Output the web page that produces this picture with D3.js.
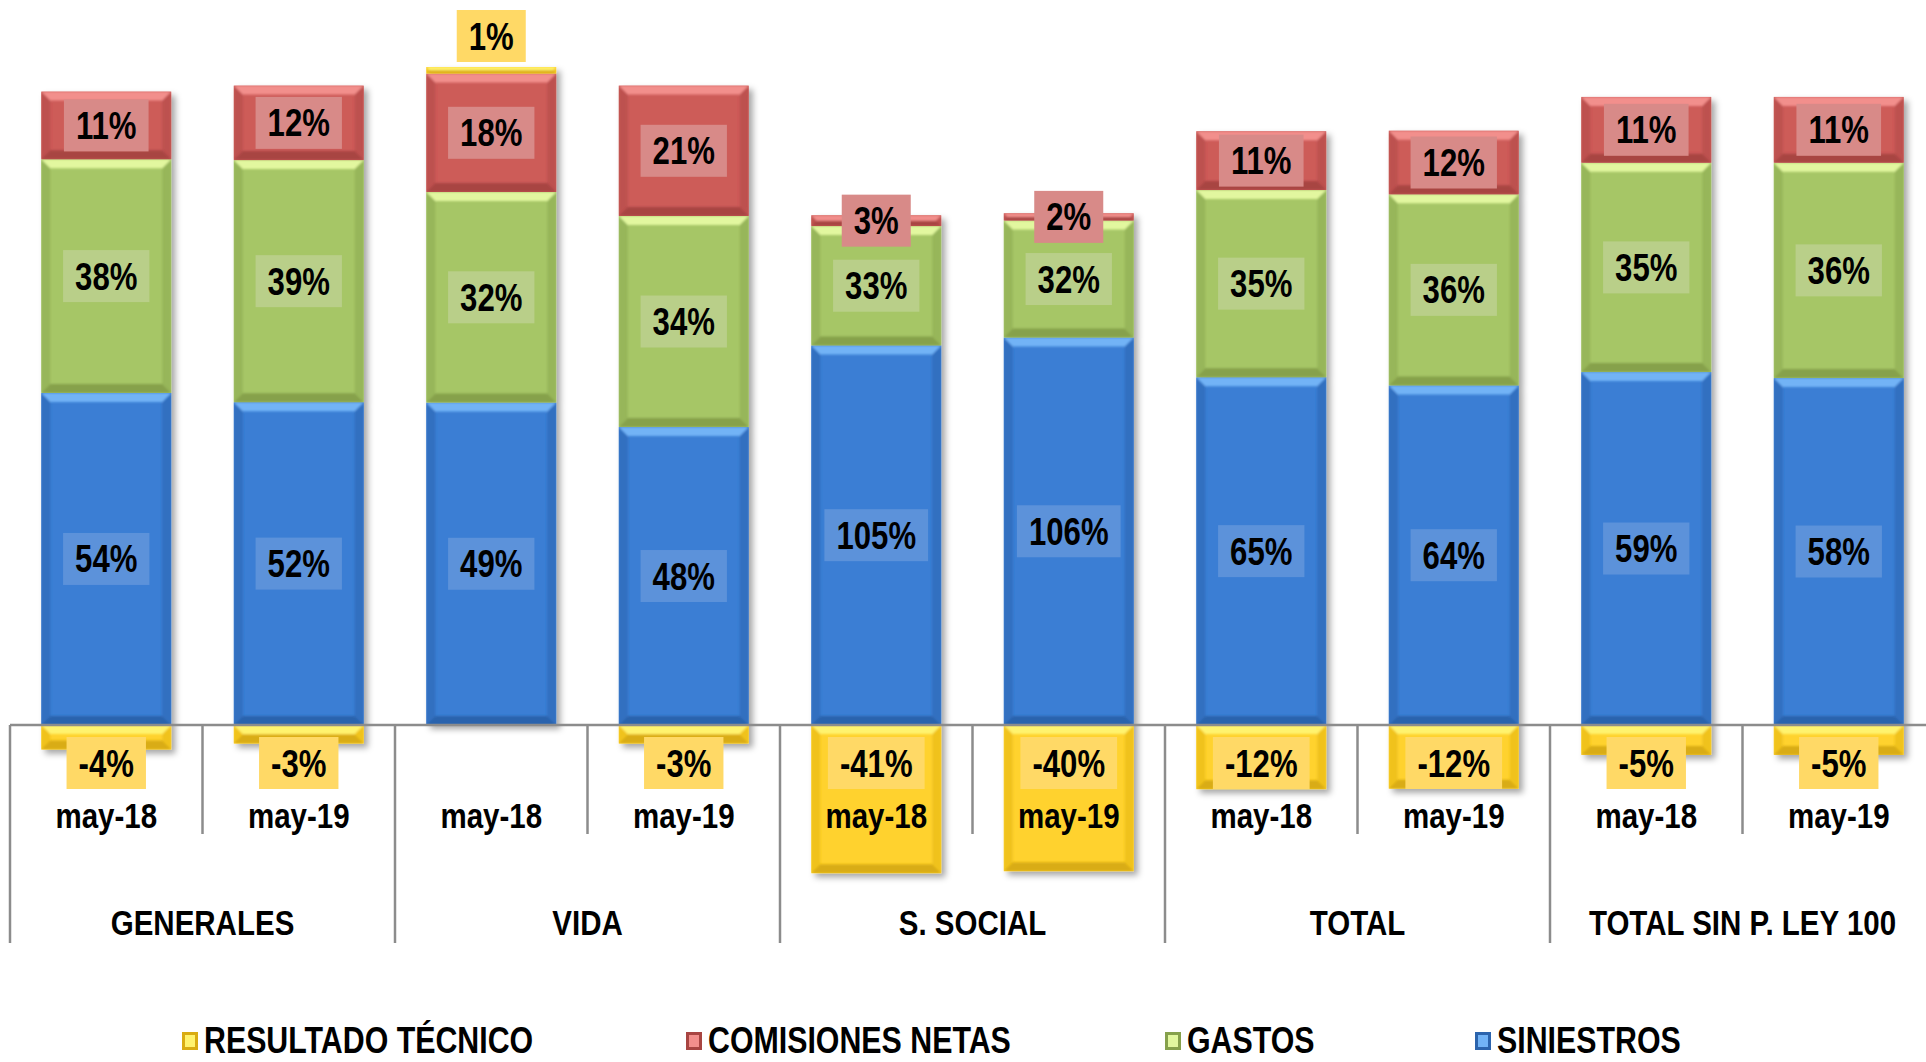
<!DOCTYPE html>
<html>
<head>
<meta charset="utf-8">
<script src="https://cdn.jsdelivr.net/npm/d3@7"></script>
<style>
  html, body { margin: 0; padding: 0; background: #ffffff; overflow: hidden; }
  svg { display: block; }
</style>
</head>
<body>
<script>
// ---------------- DATA ----------------
const groups = ["GENERALES", "VIDA", "S. SOCIAL", "TOTAL", "TOTAL SIN P. LEY 100"];
const periods = ["may-18", "may-19"];
const siniestros = [54, 52, 49, 48, 105, 106, 65, 64, 59, 58];
const gastos     = [38, 39, 32, 34, 33, 32, 35, 36, 35, 36];
const comisiones = [11, 12, 18, 21, 3, 2, 11, 12, 11, 11];
const resultado  = [-4, -3, 1, -3, -41, -40, -12, -12, -5, -5];
const legendLabels = ["RESULTADO TÉCNICO", "COMISIONES NETAS", "GASTOS", "SINIESTROS"];

// ---------------- STYLE ----------------
const W = 1926, H = 1062;
const FONT = "'Liberation Sans','Arial',sans-serif";
const NARROW = 0.82; // horizontal squeeze to emulate Arial Narrow
const styles = {
  SINIESTROS: { base: "#3a7ed4", light: "#72b3f6", dark: "#2c64ad", side: "#336fc0", label: "#5c92da" },
  GASTOS:     { base: "#a6c666", light: "#e2f79f", dark: "#86a14c", side: "#97b65a", label: "#b9cf89" },
  COMISIONES: { base: "#cd5b58", light: "#f28f8c", dark: "#a84542", side: "#bd5150", label: "#d88a88" },
  RESULTADO:  { base: "#ffd22e", light: "#fff36e", dark: "#d9ac12", side: "#f0c21e", label: "#ffd966" }
};

const series = [
  { key: "SINIESTROS", values: siniestros },
  { key: "GASTOS", values: gastos },
  { key: "COMISIONES", values: comisiones },
  { key: "RESULTADO", values: resultado }
];

const nBars = siniestros.length;
const svg = d3.select("body").append("svg").attr("width", W).attr("height", H);

const defs = svg.append("defs");
const f = defs.append("filter").attr("id", "shadow").attr("x", "-20%").attr("y", "-20%").attr("width", "140%").attr("height", "140%");
f.append("feDropShadow").attr("dx", 4).attr("dy", 4).attr("stdDeviation", 3).attr("flood-color", "#000").attr("flood-opacity", 0.35);
const soft = defs.append("filter").attr("id", "soft");
soft.append("feGaussianBlur").attr("stdDeviation", 1.2);

function narrowText(sel, tx, ty, txt, size, anchor) {
  return sel.append("text")
    .attr("transform", `translate(${tx},${ty}) scale(${NARROW},1)`)
    .attr("text-anchor", anchor || "middle")
    .attr("font-family", FONT).attr("font-weight", "bold")
    .attr("font-size", size).attr("fill", "#000").text(txt);
}

// ---------------- SCALES ----------------
const x = d3.scaleBand().domain(d3.range(nBars)).range([10, 1935]).paddingInner(0.325).paddingOuter(0.1625);
const xg = d3.scaleBand().domain(groups).range([10, 1935]).padding(0);
const y = d3.scaleLinear().domain([0, 1]).range([725, 67]);

// Build 100% stacked (absolute share) segments
const bars = d3.range(nBars).map(i => {
  const total = d3.sum(series, s => Math.abs(s.values[i]));
  let pos = 0, neg = 0;
  const segs = series.map(s => {
    const v = s.values[i];
    const share = Math.abs(v) / total;
    let s0, s1;
    if (v >= 0) { s0 = pos; s1 = pos + share; pos = s1; }
    else { s1 = neg; s0 = neg - share; neg = s0; }
    return { key: s.key, v, s0, s1, i };
  });
  return { i, segs, top: pos, bottom: neg };
});

// ---------------- BARS ----------------
const barG = svg.append("g");
bars.forEach(b => {
  const g = barG.append("g").attr("filter", "url(#shadow)");
  const bx = x(b.i), bw = x.bandwidth();
  b.segs.forEach(sg => {
    if (sg.v === 0) return;
    const st = styles[sg.key];
    const yt = y(sg.s1), yb = y(sg.s0), h = yb - yt;
    const bv = Math.min(9, h / 2, bw / 2);
    const sgG = g.append("g");
    sgG.append("rect").attr("x", bx).attr("y", yt).attr("width", bw).attr("height", h).attr("fill", st.base);
    const cid = "c" + sg.i + sg.key;
    defs.append("clipPath").attr("id", cid).append("rect").attr("x", bx).attr("y", yt).attr("width", bw).attr("height", h);
    const clipG = sgG.append("g").attr("clip-path", "url(#" + cid + ")");
    const bev = clipG.append("g").attr("filter", "url(#soft)");
    bev.append("polygon").attr("points", [[bx, yt], [bx + bv, yt + bv], [bx + bv, yb - bv], [bx, yb]].join(" ")).attr("fill", st.side);
    bev.append("polygon").attr("points", [[bx + bw, yt], [bx + bw - bv, yt + bv], [bx + bw - bv, yb - bv], [bx + bw, yb]].join(" ")).attr("fill", st.side);
    bev.append("polygon").attr("points", [[bx, yb], [bx + bw, yb], [bx + bw - bv, yb - bv], [bx + bv, yb - bv]].join(" ")).attr("fill", st.dark);
    bev.append("polygon").attr("points", [[bx, yt], [bx + bw, yt], [bx + bw - bv, yt + bv], [bx + bv, yt + bv]].join(" ")).attr("fill", st.light);
  });
});

// ---------------- AXIS ----------------
const axisG = svg.append("g");
const zeroY = y(0);
axisG.append("line").attr("x1", 10).attr("x2", W).attr("y1", zeroY).attr("y2", zeroY)
  .attr("stroke", "#8c8c8c").attr("stroke-width", 2.5);
const step = x.step();
d3.range(0, nBars + 1).forEach(k => {
  const bxk = x.range()[0] + k * step;
  const long = k % 2 === 0;
  axisG.append("line").attr("x1", bxk).attr("x2", bxk).attr("y1", zeroY).attr("y2", long ? 943 : 834)
    .attr("stroke", "#8c8c8c").attr("stroke-width", 2.5);
});

// ---------------- DATA LABELS ----------------
const labG = svg.append("g");
function addLabel(cx, cy, text, fill) {
  const g = labG.append("g");
  const rect = g.append("rect").attr("fill", fill);
  const t = narrowText(g, cx, cy + 13.5, text, 38, "middle");
  const tw = t.node().getComputedTextLength() * NARROW;
  const bw = tw + 24, bh = 52;
  rect.attr("x", cx - bw / 2).attr("y", cy - bh / 2).attr("width", bw).attr("height", bh);
}
bars.forEach(b => {
  const cx = x(b.i) + x.bandwidth() / 2;
  b.segs.forEach(sg => {
    const st = styles[sg.key];
    const txt = sg.v + "%";
    let cy;
    if (sg.key === "RESULTADO") {
      if (sg.v < 0) cy = zeroY + 38;
      else cy = y(sg.s1) - 5 - 26;
    } else {
      cy = (y(sg.s0) + y(sg.s1)) / 2;
    }
    addLabel(cx, cy, txt, st.label);
  });
});

// ---------------- CATEGORY LABELS ----------------
const catG = svg.append("g");
d3.range(nBars).forEach(i => {
  narrowText(catG, x(i) + x.bandwidth() / 2, 828, periods[i % 2], 36, "middle");
});
groups.forEach(gname => {
  narrowText(catG, xg(gname) + xg.bandwidth() / 2, 935, gname, 36, "middle");
});

// ---------------- LEGEND ----------------
const legKeys = ["RESULTADO", "COMISIONES", "GASTOS", "SINIESTROS"];
const legX = [182, 686, 1165, 1475];
const legG = svg.append("g");
legKeys.forEach((k, j) => {
  const st = styles[k];
  const mx = legX[j], my = 1032, ms = 16;
  const gg = legG.append("g");
  gg.append("rect").attr("x", mx).attr("y", my).attr("width", ms).attr("height", ms + 2).attr("fill", st.dark);
  gg.append("rect").attr("x", mx + 3).attr("y", my + 3).attr("width", ms - 6).attr("height", ms - 4).attr("fill", st.light);
  narrowText(gg, mx + 22, 1053, legendLabels[j], 37, "start");
});
</script>
</body>
</html>
